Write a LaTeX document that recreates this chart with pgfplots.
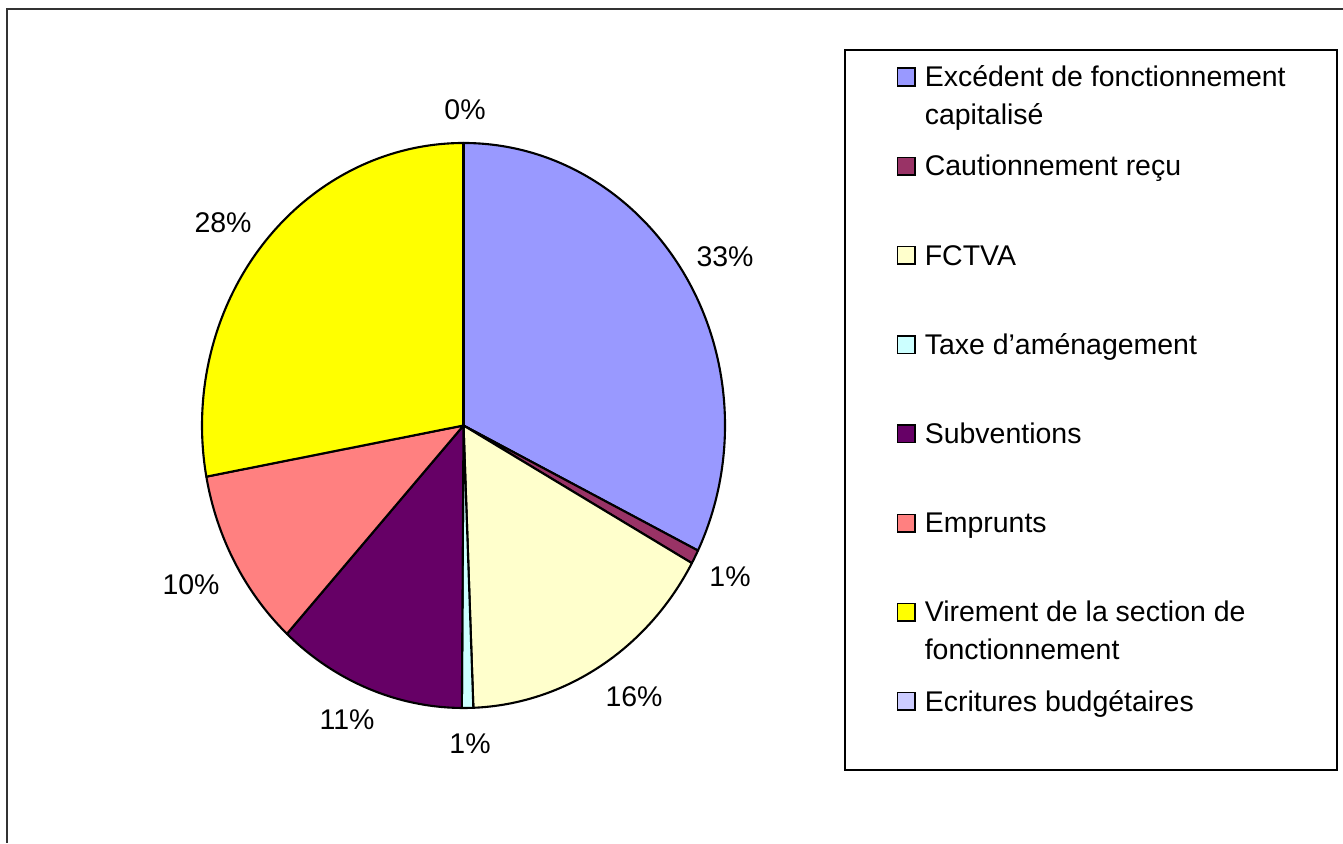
\documentclass[border=0pt]{standalone}
\usepackage{pgfplots}
\pgfplotsset{compat=1.18}
\usepackage{pgfplotstable}
\usepackage{fontspec}
\setmainfont{Liberation Sans}
\definecolor{c0}{HTML}{9999FF}
\definecolor{c1}{HTML}{993366}
\definecolor{c2}{HTML}{FFFFCC}
\definecolor{c3}{HTML}{CCFFFF}
\definecolor{c4}{HTML}{660066}
\definecolor{c5}{HTML}{FF8080}
\definecolor{c6}{HTML}{FFFF00}
\definecolor{c7}{HTML}{CCCCFF}
\pgfplotstableread{
idx val
0 32.3
1 0.8
2 16.3
3 0.7
4 11.7
5 10.3
6 27.9
7 0.0
}\piedata
\newcommand\lgtxt[1]{\parbox[t]{39mm}{\raggedright\strut #1}}
\begin{document}%
\def\cumsum{0}%
\pgfplotsforeachungrouped \i in {0,...,7}{%
  \pgfplotstablegetelem{\i}{val}\of\piedata
  \pgfmathsetmacro\tmpa{90-3.6*\cumsum}%
  \pgfmathsetmacro\tmpc{\cumsum+\pgfplotsretval}%
  \pgfmathsetmacro\tmpb{90-3.6*\tmpc}%
  \expandafter\xdef\csname sa\i\endcsname{\tmpa}%
  \expandafter\xdef\csname ea\i\endcsname{\tmpb}%
  \xdef\cumsum{\tmpc}%
}%
\begin{tikzpicture}[font=\fontsize{8.1}{10.8}\selectfont]
\begin{axis}[at={(0,0)}, anchor=south west, width=134.3mm, height=84.3mm,
  scale only axis, hide axis, xmin=0, xmax=1343, ymin=0, ymax=843, clip=false,
  legend style={at={(axis cs:845,802.5)}, anchor=north west, draw=none, fill=none,
    inner xsep=5.1mm, inner ysep=1.2mm, row sep=4.33mm, column sep=0.2mm,
    font=\fontsize{8.1}{10.8}\selectfont, cells={anchor=base west}},
  legend image code/.code={\draw[#1, draw=black, line width=0.45pt] (0mm,0.1mm) rectangle (1.75mm,1.85mm);},
]
\pgfplotsinvokeforeach{0,...,7}{%
  \filldraw[fill=c#1, draw=black, line width=0.6pt, line join=round]
    (axis cs:463.5,417.5) -- ++(\csname sa#1\endcsname:26.15mm and 28.25mm)
    arc[start angle=\csname sa#1\endcsname, end angle=\csname ea#1\endcsname,
        x radius=26.15mm, y radius=28.25mm] -- cycle;
}
\draw[line width=0.5pt] (axis cs:845,73) rectangle (axis cs:1337,793);
\addlegendimage{fill=c0}\addlegendentry{\lgtxt{Excédent de fonctionnement\\capitalisé}}
\addlegendimage{fill=c1}\addlegendentry{\lgtxt{Cautionnement reçu}}
\addlegendimage{fill=c2}\addlegendentry{\lgtxt{FCTVA}}
\addlegendimage{fill=c3}\addlegendentry{\lgtxt{Taxe d’aménagement}}
\addlegendimage{fill=c4}\addlegendentry{\lgtxt{Subventions}}
\addlegendimage{fill=c5}\addlegendentry{\lgtxt{Emprunts}}
\addlegendimage{fill=c6}\addlegendentry{\lgtxt{Virement de la section de\\fonctionnement}}
\addlegendimage{fill=c7}\addlegendentry{\lgtxt{Ecritures budgétaires}}
\node at (axis cs:465,733) {0\%};
\node at (axis cs:725,586) {33\%};
\node at (axis cs:730,266) {1\%};
\node at (axis cs:634,146) {16\%};
\node at (axis cs:470,99) {1\%};
\node at (axis cs:347,123) {11\%};
\node at (axis cs:191,258) {10\%};
\node at (axis cs:223,620) {28\%};
\draw[line width=0.2mm, black!80] (axis cs:1343,834) -- (axis cs:7,834) -- (axis cs:7,0);
\end{axis}
\pgfresetboundingbox
\path[use as bounding box] (0,0) rectangle (134.3mm,84.3mm);
\end{tikzpicture}%
\end{document}
